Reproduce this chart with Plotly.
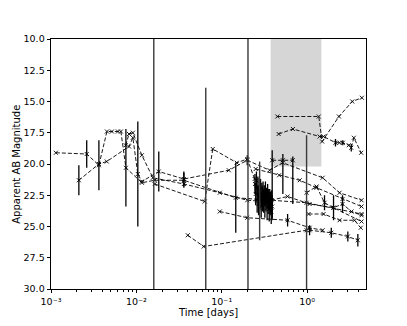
import plotly.graph_objects as go

# light-curve style data: time since trigger [days], apparent AB magnitude, 1-sigma error
s1_t = [0.00114, 0.00262, 0.00364, 0.00452, 0.00517, 0.00608, 0.00659, 0.00754, 0.0116, 0.0164, 0.036, 0.146, 0.986, 4.34]
s1_m = [19.1, 19.2, 20.1, 17.4, 17.4, 17.4, 17.4, 20.3, 21.5, 21.3, 21.3, 22.7, 23.1, 24.0]
s1_e = [0, 1.1, 2.0, 0, 0, 0, 0, 3.1, 0, 0, 0.6, 2.8, 0, 0]

s2_t = [0.00212, 0.00364, 0.0045, 0.0082, 0.0091, 0.0104, 0.0116, 0.0183, 0.036, 0.121, 0.199, 0.364, 0.517, 1.52, 2.40, 4.34]
s2_m = [21.3, 20.0, 19.8, 18.6, 17.9, 20.8, 21.4, 20.6, 21.2, 20.5, 19.7, 20.5, 19.9, 21.1, 22.3, 22.9]
s2_e = [1.2, 0, 0, 0, 0, 4.2, 0, 1.6, 0.6, 0, 0.4, 0, 0, 0, 0, 0]

s3_t = [0.0075, 0.0082, 0.0091, 0.0116, 0.0156, 0.036, 0.0948, 0.199, 0.318, 0.591, 1.07, 2.04, 4.34]
s3_m = [18.5, 17.6, 17.5, 19.3, 21.1, 21.6, 22.3, 22.9, 23.0, 22.6, 23.2, 23.5, 24.6]

s4_t = [0.0164, 0.0632, 0.0785, 0.150, 0.199, 0.243]
s4_m = [21.6, 23.0, 18.8, 19.9, 19.6, 21.2]

s5_t = [0.040, 0.0615, 0.986, 1.07, 1.92, 3.0, 3.93]
s5_m = [25.7, 26.6, 25.3, 25.3, 25.5, 25.8, 26.1]
s5_e = [0, 0, 0, 0.4, 0.4, 0.4, 0.5]

s6_t = [0.0948, 0.199, 0.591, 1.07, 1.52]
s6_m = [23.8, 24.3, 24.5, 25.1, 25.3]
s6_e = [0, 0, 0.5, 0, 0]

s8_t = [0.448, 1.37, 1.50, 2.36, 3.38, 4.38]
s8_m = [16.2, 16.2, 18.2, 16.2, 15.0, 14.7]

s9_t = [0.464, 0.682, 1.40, 1.56, 2.15, 2.40, 2.62, 3.08, 3.29, 3.53, 4.30]
s9_m = [17.6, 17.2, 17.8, 17.8, 18.3, 18.3, 18.3, 18.5, 18.7, 17.9, 19.1]
s9_e = [0, 0, 0, 0, 0.3, 0, 0.2, 0, 0.3, 0, 0]

s10_t = [0.986, 1.29, 1.60, 2.04, 2.60, 3.31, 4.34]
s10_m = [22.3, 21.8, 23.1, 23.5, 23.2, 23.8, 24.1]
s10_e = [0, 0, 0.6, 1.0, 0.7, 0, 0]

s11_t = [1.04, 1.56, 2.40, 3.59, 4.25]
s11_m = [24.0, 24.0, 24.5, 24.5, 25.1]

s12_t = [0.39, 0.52, 0.68]
s12_m = [19.7, 19.7, 19.7]
s12_up = [4.8, 2.7, 3.5]
s12_dn = [0.8, 0.5, 0.3]

s13_t = [0.25, 0.47, 0.82, 1.29, 2.60, 4.34]
s13_m = [20.4, 20.9, 21.3, 21.9, 22.8, 23.4]

# dense monitoring run
dense_t = [0.245, 0.250, 0.255, 0.260, 0.265, 0.270, 0.275, 0.280, 0.285, 0.290,
           0.295, 0.300, 0.305, 0.310, 0.315, 0.320, 0.325, 0.330, 0.335, 0.340,
           0.345, 0.350, 0.355, 0.360, 0.365, 0.370, 0.375, 0.380, 0.385, 0.390]
dense_m = [21.6, 22.4, 21.3, 22.9, 21.8, 23.2, 22.0, 22.7, 21.9, 23.4,
           22.3, 22.8, 22.1, 23.0, 22.5, 23.3, 22.2, 22.9, 22.6, 23.5,
           22.4, 23.1, 22.8, 23.6, 22.7, 23.2, 23.0, 23.8, 22.9, 23.4]
dense_e = [0.8, 0.9, 0.7, 1.0, 0.8, 0.9, 0.8, 1.0, 0.7, 0.9,
           0.8, 1.0, 0.7, 0.9, 0.8, 1.0, 0.8, 0.9, 0.7, 1.0,
           0.8, 0.9, 0.8, 1.0, 0.7, 0.9, 0.8, 1.0, 0.8, 0.9]

# poorly constrained detections (huge error bars)
big_t = [0.016, 0.065, 0.203, 0.986, 0.278]
big_m = [20.0, 22.0, 20.0, 24.0, 22.95]
big_e = [15.0, 8.1, 15.0, 6.3, 3.15]

window = (0.374, 1.47, 10.0, 20.2)

x_ticks = [0.001, 0.01, 0.1, 1]
x_labels = ['10⁻³', '10⁻²', '10⁻¹', '10⁰']
y_ticks = [10, 12.5, 15, 17.5, 20, 22.5, 25, 27.5, 30]

fig = go.Figure()

def add_series(t, m, e=None, up=None, dn=None, dash=True):
    err = None
    if e is not None:
        err = dict(type='data', array=e, visible=True, color='black', thickness=1.3, width=0)
    if up is not None:
        err = dict(type='data', symmetric=False, array=up, arrayminus=dn, visible=True,
                   color='black', thickness=1.3, width=0)
    fig.add_trace(go.Scatter(
        x=t, y=m, mode='lines+markers',
        line=dict(color='black', width=0.9, dash='4px,2px' if dash else 'solid'),
        marker=dict(symbol='x-thin', size=4, line=dict(color='black', width=0.9)),
        error_y=err, showlegend=False))

add_series(s1_t, s1_m, s1_e)
add_series(s2_t, s2_m, s2_e)
add_series(s3_t, s3_m)
add_series(s4_t, s4_m)
add_series(s5_t, s5_m, s5_e)
add_series(s6_t, s6_m, s6_e)
add_series(s8_t, s8_m)
add_series(s9_t, s9_m, s9_e)
add_series(s10_t, s10_m, s10_e)
add_series(s11_t, s11_m)
add_series(s12_t, s12_m, up=s12_up, dn=s12_dn)
add_series(s13_t, s13_m)
add_series(dense_t, dense_m, dense_e, dash=False)

fig.add_trace(go.Scatter(
    x=big_t, y=big_m, mode='markers', marker=dict(size=1, color='rgba(0,0,0,0)'),
    error_y=dict(type='data', array=big_e, color='#3a3a3a', thickness=1.4, width=0),
    showlegend=False))

fig.add_shape(type='rect', xref='x', yref='y', x0=window[0], x1=window[1], y0=window[2], y1=window[3],
              fillcolor='#d6d6d6', line=dict(width=0), layer='below')

minor_vals = [k * 10 ** d for d in range(-3, 1) for k in range(2, 10)]

# page body has an 8px margin, so the figure is sized to sit inside the window
fig.update_layout(
    width=399, height=318,
    margin=dict(l=43, r=41, t=31, b=37),
    paper_bgcolor='white', plot_bgcolor='white',
    font=dict(family='DejaVu Sans', size=9.5, color='black'),
    xaxis=dict(type='log', range=[-3, 0.69], automargin=False,
               tickvals=x_ticks, ticktext=x_labels,
               ticks='outside', ticklen=3.5, tickwidth=0.8, tickcolor='black',
               minor=dict(tickvals=minor_vals, ticks='outside', ticklen=2, tickwidth=0.6, tickcolor='black'),
               showgrid=False, zeroline=False,
               showline=True, mirror=True, linecolor='black', linewidth=0.8),
    yaxis=dict(range=[30, 10], tickvals=y_ticks,
               tickformat='.1f', automargin=False,
               ticks='outside', ticklen=3.5, tickwidth=0.8, tickcolor='black',
               showgrid=False, zeroline=False,
               showline=True, mirror=True, linecolor='black', linewidth=0.8),
    annotations=[
        dict(text='Time [days]', xref='paper', yref='paper', x=0.498, y=-0.092,
             xanchor='center', yanchor='middle', showarrow=False, font=dict(size=10)),
        dict(text='Apparent AB Magnitude', xref='paper', yref='paper', x=-0.112, y=0.5,
             xanchor='center', yanchor='middle', textangle=-90, showarrow=False, font=dict(size=10)),
    ],
)

fig.write_html("out.html")
